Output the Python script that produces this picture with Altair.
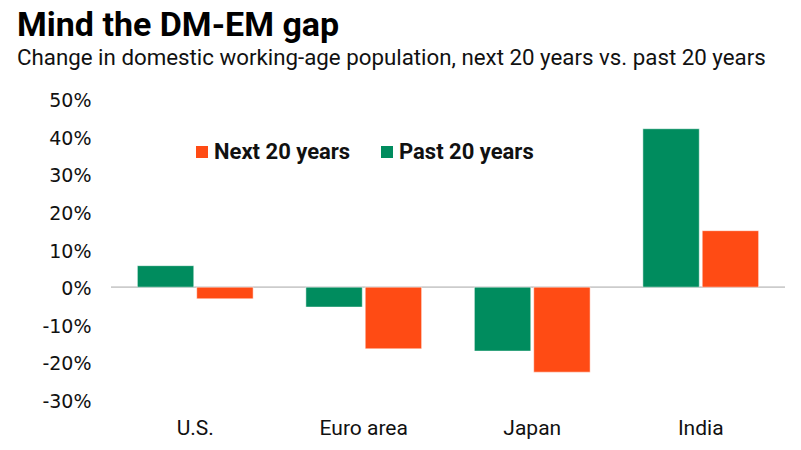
import altair as alt
import pandas as pd

regions = ["U.S.", "Euro area", "Japan", "India"]
past_20 = [5.7, -5.3, -17.0, 42.1]
next_20 = [-3.1, -16.4, -22.6, 15.0]
series_order = ["Past 20 years", "Next 20 years"]
legend_order = ["Next 20 years", "Past 20 years"]
colors = ["#FF4B14", "#008C5E"]
y_ticks = [-30, -20, -10, 0, 10, 20, 30, 40, 50]

rows = []
for i, r in enumerate(regions):
    rows.append({"region": r, "series": "Past 20 years", "value": past_20[i]})
    rows.append({"region": r, "series": "Next 20 years", "value": next_20[i]})
df = pd.DataFrame(rows)

y_enc = alt.Y("value:Q", title=None,
              scale=alt.Scale(domain=[-30, 50], nice=False),
              axis=alt.Axis(values=y_ticks, labelExpr="datum.value + '%'", grid=False,
                            domain=False, ticks=False, labelPadding=20, labelOverlap=False,
                            labelOffset=1.5,
                            labelFont="DejaVu Sans", labelFontSize=19, labelColor="#111"))

bars = alt.Chart(df).mark_bar(stroke="white", strokeWidth=0.5).encode(
    x=alt.X("region:N", sort=regions, title=None,
            scale=alt.Scale(paddingInner=0.313, paddingOuter=0.1565),
            axis=alt.Axis(labelAngle=0, domain=False, ticks=False, labelPadding=17,
                          labelFont="Roboto", labelFontSize=21, labelColor="#111")),
    xOffset=alt.XOffset("series:N", sort=series_order,
                        scale=alt.Scale(paddingInner=0.05, paddingOuter=0)),
    y=y_enc,
    color=alt.Color("series:N", scale=alt.Scale(domain=legend_order, range=colors),
                    legend=alt.Legend(title=None, orient="none", legendX=80, legendY=42,
                                      direction="horizontal", symbolType="square",
                                      symbolSize=144, symbolStrokeWidth=0,
                                      labelFont="Roboto", labelFontWeight="bold",
                                      labelFontSize=22, labelColor="#111",
                                      columnPadding=25, labelOffset=1)),
)

zero = alt.Chart(pd.DataFrame({"value": [0]})).mark_rule(color="#cccccc", strokeWidth=1.8).encode(y=y_enc)

chart = alt.layer(zero, bars).properties(
    width=674, height=301,
    autosize=alt.AutoSizeParams(type="none"),
    padding={"left": 103, "top": 91, "right": 8, "bottom": 42},
    title=alt.TitleParams(
        text="Mind the DM-EM gap",
        subtitle="Change in domestic working-age population, next 20 years vs. past 20 years",
        anchor="start", frame="group", dx=-94, offset=22,
        font="Roboto", fontSize=34, fontWeight="bold", color="#000",
        subtitleFont="Roboto", subtitleFontSize=22.3, subtitleColor="#111",
        subtitlePadding=4,
    ),
).configure_view(stroke=None)

chart.save("out.html", embed_options={"renderer": "svg", "actions": False})
